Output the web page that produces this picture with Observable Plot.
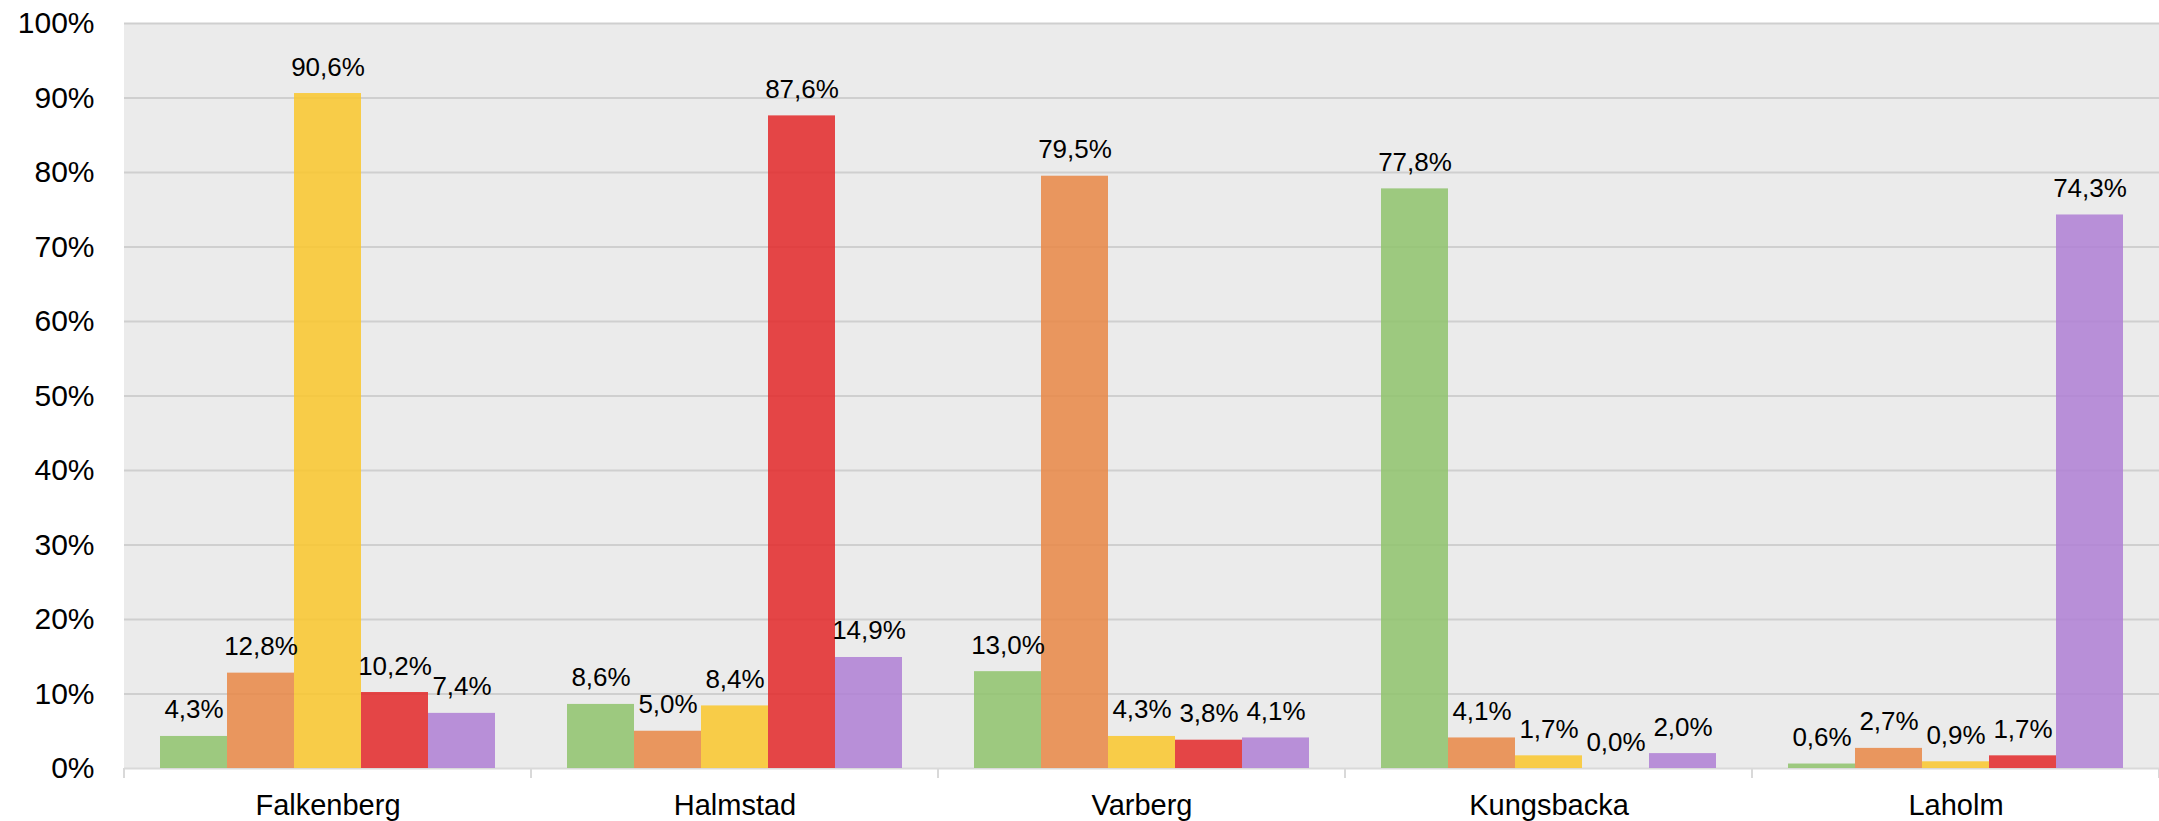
<!DOCTYPE html>
<html><head><meta charset="utf-8">
<script src="https://cdn.jsdelivr.net/npm/d3@7"></script>
<script src="https://cdn.jsdelivr.net/npm/@observablehq/plot@0.6"></script>
<style>html,body{margin:0;padding:0;background:#fff;overflow:hidden}</style>
</head><body><div id="chart"></div>
<script>
const cities = ["Falkenberg", "Halmstad", "Varberg", "Kungsbacka", "Laholm"];
const seriesKeys = ["Serie 1", "Serie 2", "Serie 3", "Serie 4", "Serie 5"];
const seriesColors = ["#8fc36c", "#e98745", "#fac72b", "#e32829", "#af7fd5"];
const serie1 = [4.3, 8.6, 13.0, 77.8, 0.6];
const serie2 = [12.8, 5.0, 79.5, 4.1, 2.7];
const serie3 = [90.6, 8.4, 4.3, 1.7, 0.9];
const serie4 = [10.2, 87.6, 3.8, 0.0, 1.7];
const serie5 = [7.4, 14.9, 4.1, 2.0, 74.3];
const yTicks = [0, 10, 20, 30, 40, 50, 60, 70, 80, 90, 100];

const seriesValues = [serie1, serie2, serie3, serie4, serie5];
const data = [];
cities.forEach((c, i) => seriesKeys.forEach((s, j) => data.push({city: c, serie: s, value: seriesValues[j][i]})));
const fmt = v => v.toFixed(1).replace(".", ",") + "%";

const chart = Plot.plot({
  width: 2159, height: 821,
  marginTop: 23, marginBottom: 53, marginLeft: 124, marginRight: 0,
  style: {fontFamily: "'Liberation Sans', Arial, sans-serif", color: "#000", background: "#fff", overflow: "visible"},
  fx: {domain: cities, padding: 0, label: null},
  x: {domain: seriesKeys, paddingInner: 0, paddingOuter: 0.5, axis: null},
  y: {domain: [0, 100], label: null},
  color: {domain: seriesKeys, range: seriesColors},
  marks: [
    Plot.ruleY(yTicks.slice(1), {stroke: "#cfcfcf", strokeWidth: 2}),
    Plot.ruleY([0], {stroke: "#d9d9d9", strokeWidth: 2}),
    Plot.barY(data, {fx: "city", x: "serie", y: "value", fill: "serie", fillOpacity: 0.85, inset: 0}),
    Plot.text(data, {fx: "city", x: "serie", y: "value", text: d => fmt(d.value), lineAnchor: "bottom", dy: -18, fontSize: 26, fill: "#000"}),
    Plot.axisY({ticks: yTicks, tickFormat: d => d + "%", tickSize: 0, tickPadding: 30, fontSize: 30, label: null}),
    Plot.axisFx({anchor: "bottom", tickSize: 0, tickPadding: 26, fontSize: 29, label: null})
  ]
});
document.getElementById("chart").appendChild(chart);

const fxs = chart.scale("fx");
const ys = chart.scale("y");
const y0 = ys.apply(0);
const y100 = ys.apply(100);
const xr = fxs.range;
d3.select(chart).insert("rect", ":first-child")
  .attr("x", Math.min(...xr)).attr("y", y100)
  .attr("width", Math.abs(xr[1] - xr[0])).attr("height", y0 - y100)
  .attr("fill", "#ebebeb");
const bounds = cities.map(c => fxs.apply(c)).concat([fxs.apply(cities[cities.length - 1]) + fxs.bandwidth]);
d3.select(chart).append("g")
  .selectAll("line").data(bounds).join("line")
  .attr("x1", d => d).attr("x2", d => d)
  .attr("y1", y0).attr("y2", y0 + 10)
  .attr("stroke", "#d9d9d9").attr("stroke-width", 2);
</script>
</body></html>
